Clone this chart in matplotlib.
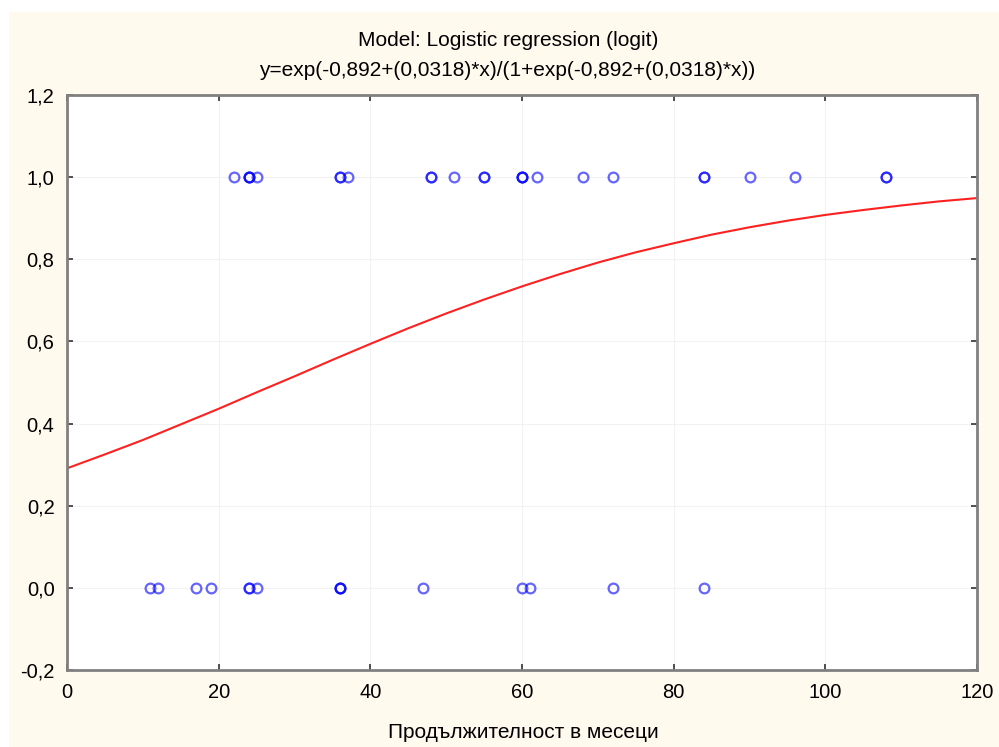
import matplotlib.pyplot as plt
from matplotlib.patches import Rectangle

# observed cases (months, outcome); repeated values are overlapping points
x_one = [22, 24, 24, 24, 25, 36, 36, 37, 48, 48, 51, 55, 55, 60, 60, 60,
         62, 68, 72, 84, 84, 90, 96, 108, 108]
x_zero = [11, 12, 17, 19, 24, 24, 25, 36, 36, 36, 47, 60, 61, 72, 84]

# fitted logistic curve
curve_x = [0, 5, 10, 15, 20, 25, 30, 35, 40, 45, 50, 55, 60, 65, 70, 75,
           80, 85, 90, 95, 100, 105, 110, 115, 120]
curve_y = [0.291, 0.325, 0.360, 0.398, 0.436, 0.476, 0.515, 0.555, 0.594,
           0.632, 0.668, 0.702, 0.734, 0.764, 0.792, 0.817, 0.839, 0.860,
           0.878, 0.894, 0.908, 0.920, 0.931, 0.941, 0.949]

x_ticks = [0, 20, 40, 60, 80, 100, 120]
y_ticks = [-0.2, 0.0, 0.2, 0.4, 0.6, 0.8, 1.0, 1.2]
y_tick_labels = ["-0,2", "0,0", "0,2", "0,4", "0,6", "0,8", "1,0", "1,2"]

title1 = "Model: Logistic regression (logit)"
title2 = "y=exp(-0,892+(0,0318)*x)/(1+exp(-0,892+(0,0318)*x))"
xlabel = "Продължителност в месеци"

plt.rcParams["font.family"] = ["Liberation Sans", "DejaVu Sans"]

fig = plt.figure(figsize=(9.99, 7.47), dpi=100, facecolor="white")
fig.patches.append(Rectangle((9 / 999, 0), 1, 1 - 12 / 747,
                             transform=fig.transFigure,
                             facecolor="#fff9ee", edgecolor="none", zorder=-1))

ax = fig.add_axes([67 / 999, 1 - 670 / 747, 910 / 999, 575 / 747])
ax.set_facecolor("white")

ax.plot(x_one, [1.0] * len(x_one), "o", mfc="none", mec="blue",
        mew=1.6, ms=7, alpha=0.6, zorder=3)
ax.plot(x_zero, [0.0] * len(x_zero), "o", mfc="none", mec="blue",
        mew=1.6, ms=7, alpha=0.6, zorder=3)
ax.plot(curve_x, curve_y, color="#ff2020", lw=1.5, zorder=2)

ax.set_xlim(0, 120)
ax.set_ylim(-0.2, 1.2)
ax.set_xticks(x_ticks)
ax.set_yticks(y_ticks)
ax.set_yticklabels(y_tick_labels)
ax.grid(True, color="#f2f2f2", lw=0.8)
ax.set_axisbelow(True)
ax.tick_params(direction="in", length=4, width=1.2, color="#333333",
               top=True, right=True, labelsize=14.5)
ax.tick_params(axis="x", pad=9)
ax.tick_params(axis="y", pad=9)
for s in ax.spines.values():
    s.set_color("#808080")
    s.set_linewidth(2)

fig.text(508 / 999, 1 - 40 / 747, title1, ha="center", va="center", fontsize=15)
fig.text(507 / 999, 1 - 70 / 747, title2, ha="center", va="center", fontsize=15)
fig.text(523 / 999, 1 - 733 / 747, xlabel, ha="center", va="center", fontsize=15)

fig.savefig("out.png", dpi=100, facecolor=fig.get_facecolor())
